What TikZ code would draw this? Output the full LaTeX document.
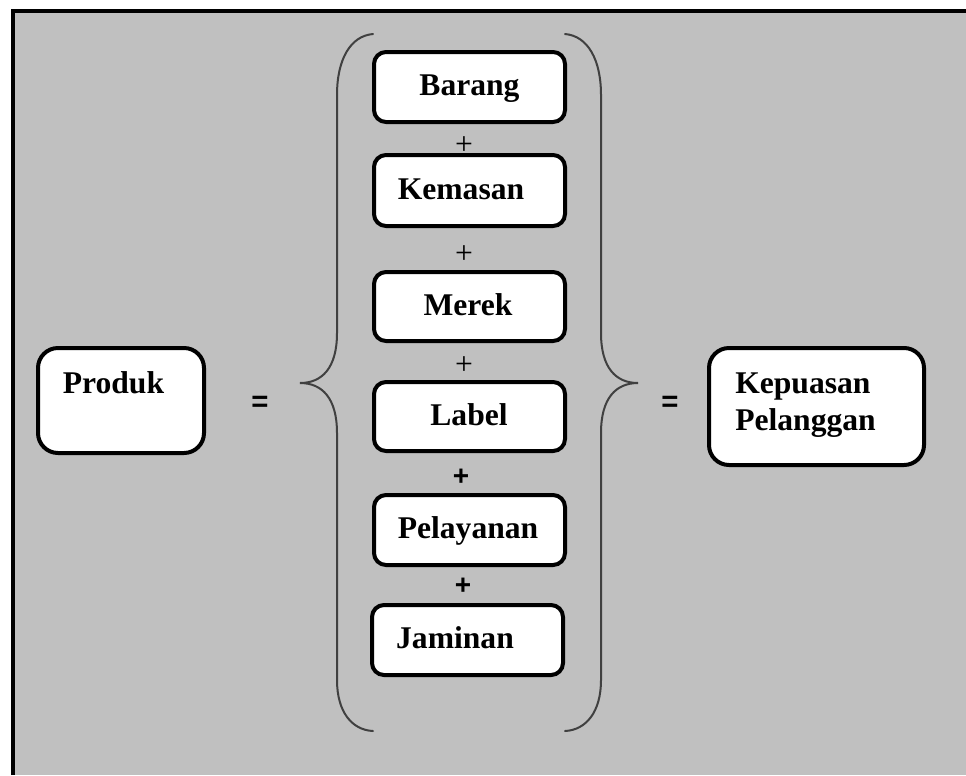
\documentclass[tikz,border=0pt]{standalone}
\usepackage{fontspec}
\setmainfont{Liberation Serif}
\newfontfamily\sansfam{Liberation Sans}
\definecolor{panelgray}{HTML}{C0C0C0}
\definecolor{bracegray}{HTML}{404040}
\begin{document}
\begin{tikzpicture}[x=0.75pt,y=-0.75pt,
  itembox/.style={draw, line width=3pt, fill=white, rounded corners=9pt, inner sep=0pt,
    minimum width=143.25pt, minimum height=52.5pt},
  sidebox/.style={itembox, rounded corners=15pt},
  lbl/.style={font=\fontsize{23.7}{27.75}\selectfont\bfseries, inner sep=0pt, anchor=base},
  plusthin/.style={font=\fontsize{23.7}{28}\selectfont, inner sep=0pt},
  plusbold/.style={font=\sansfam\bfseries\fontsize{21}{24}\selectfont, inner sep=0pt},
  eqsign/.style={font=\sansfam\bfseries\fontsize{22}{24}\selectfont, inner sep=0pt, anchor=base},
  bracepath/.style={draw=bracegray, line width=1.5pt, line cap=round}]
\useasboundingbox (0,0) rectangle (966,775);

% panel with its frame on the top and left
\fill[panelgray] (13,11) rectangle (966,775);
\draw[line width=3pt, line join=miter] (13,775) -- (13,11) -- (966,11);

% braces round the product components
\draw[bracepath] (373,34) .. controls (350,36) and (337,60) .. (337,95)
  -- (337,333) .. controls (337,368) and (322,383) .. (300,383)
  .. controls (322,383) and (337,398) .. (337,433)
  -- (337,680) .. controls (337,712) and (352,730) .. (373,731);
\draw[bracepath] (565,34) .. controls (588,36) and (601,60) .. (601,95)
  -- (601,333) .. controls (601,368) and (616,383) .. (638,383)
  .. controls (616,383) and (601,398) .. (601,433)
  -- (601,680) .. controls (601,712) and (586,730) .. (565,731);

% component boxes
\node[itembox] (barang) at (469.5,87) {};
\node[itembox, minimum height=53.25pt] (kemasan) at (469.5,190.5) {};
\node[itembox, minimum height=51.75pt] (merek) at (469.5,306.5) {};
\node[itembox, minimum height=51.75pt] (label) at (469.5,416.5) {};
\node[itembox] (pelayanan) at (469.5,530) {};
\node[itembox] (jaminan) at (467.5,640) {};

\node[lbl] (t-barang) at (469.5,95) {Barang};
\node[lbl] (t-kemasan) at (461,199) {Kemasan};
\node[lbl] (t-merek) at (468,315) {Merek};
\node[lbl] (t-label) at (469,425) {Label};
\node[lbl] (t-pelayanan) at (468,538) {Pelayanan};
\node[lbl] (t-jaminan) at (455,648) {Jaminan};

% plus signs between the components
\node[plusthin] (p1) at (464,146) {+};
\node[plusthin] (p2) at (464,255) {+};
\node[plusthin] (p3) at (464,366) {+};
\node[plusbold] (p4) at (461,477) {+};
\node[plusbold] (p5) at (463,586) {+};

% left and right sides of the equation
\node[sidebox, minimum width=124.5pt, minimum height=78.75pt] (produk) at (121,400.5) {};
\node[lbl] (t-produk) at (113.5,393) {Produk};
\node[sidebox, minimum width=161.25pt, minimum height=87.75pt] (kepuasan) at (816.5,406.5) {};
\node[lbl, anchor=base west] (t-kepuasan) at (735,393) {Kepuasan};
\node[lbl, anchor=base west] (t-pelanggan) at (735,430) {Pelanggan};

\node[eqsign] (eq1) at (260,411) {=};
\node[eqsign] (eq2) at (670,411) {=};
\end{tikzpicture}
\end{document}
